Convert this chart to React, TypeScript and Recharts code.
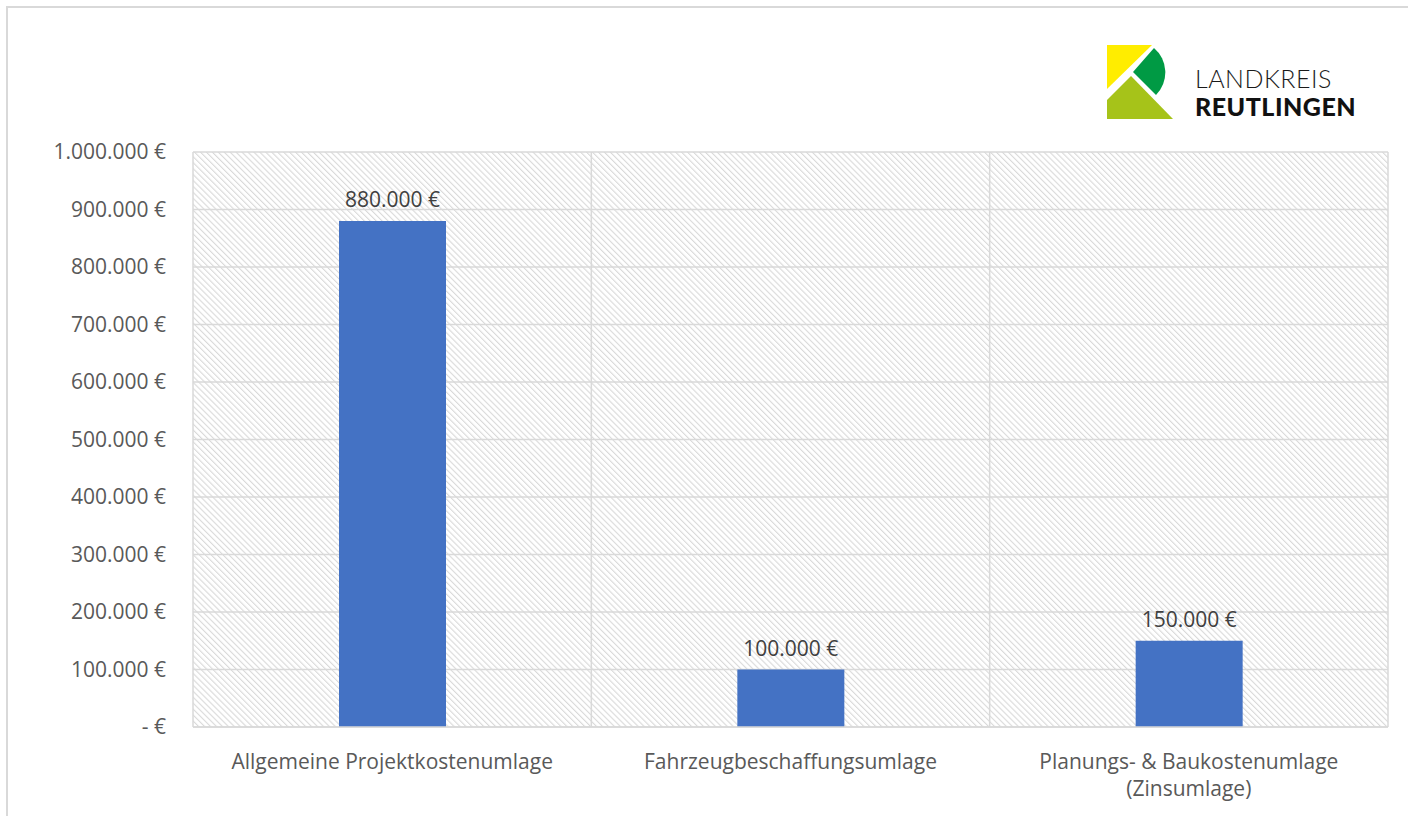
import * as React from 'react';
import { BarChart, Bar, XAxis, YAxis, CartesianGrid, LabelList } from 'recharts';

// Umlagen
const categories = [
  'Allgemeine Projektkostenumlage',
  'Fahrzeugbeschaffungsumlage',
  'Planungs- & Baukostenumlage (Zinsumlage)',
];
const amounts = [880000, 100000, 150000];
const yTicks = [0, 100000, 200000, 300000, 400000, 500000, 600000, 700000, 800000, 900000, 1000000];

const data = categories.map((name, i) => ({ name, amount: amounts[i] }));

const FONT = '"Open Sans", sans-serif';
const FS = 21;

function euro(v: number) {
  if (v === 0) return '- €';
  return String(v).replace(/\B(?=(\d{3})+(?!\d))/g, '.') + ' €';
}

function CategoryTick(props: any) {
  const { x, y, payload } = props;
  const text: string = payload.value;
  const idx = text.indexOf(' (');
  const lines = idx > 0 ? [text.slice(0, idx), text.slice(idx + 1)] : [text];
  return (
    <text x={x} y={y + 34} textAnchor="middle" fill="#595959" fontSize={FS} fontFamily={FONT}>
      {lines.map((l, i) => (
        <tspan key={i} x={x} dy={i === 0 ? 0 : 27}>{l}</tspan>
      ))}
    </text>
  );
}

function Logo() {
  return (
    <div style={{ position: 'absolute', left: 1100, top: 40, width: 280, height: 85 }}>
      <svg width={80} height={85} style={{ position: 'absolute', left: 0, top: 0 }}>
        <polygon points="7,5 52,5 7,49" fill="#ffed00" />
        <polygon points="31,36 73,79 7,79 7,60" fill="#a6c319" />
        <path d="M 33,32 L 54,8 A 32 32 0 0 1 56,55 Z" fill="#009a44" />
      </svg>
      <div style={{ position: 'absolute', left: 95, top: 25, fontFamily: 'Lato, sans-serif', fontSize: 25, fontWeight: 300, color: '#1a1a1a', lineHeight: '26px', letterSpacing: 0.5 }}>
        LANDKREIS
      </div>
      <div style={{ position: 'absolute', left: 95, top: 53, fontFamily: 'Lato, sans-serif', fontSize: 25, fontWeight: 900, color: '#111', lineHeight: '26px', letterSpacing: 0.5 }}>
        REUTLINGEN
      </div>
    </div>
  );
}

export default function App() {
  return (
    <div style={{ position: 'absolute', left: 0, top: 0, width: 1408, height: 816, background: '#fff', overflow: 'hidden' }}>
      <svg width={0} height={0} style={{ position: 'absolute' }}>
        <defs>
          <pattern id="hatch" patternUnits="userSpaceOnUse" width={4.2} height={10} patternTransform="rotate(-45)">
            <rect x={0} y={0} width={1.1} height={10} fill="#d9d9d9" />
          </pattern>
        </defs>
      </svg>
      <div style={{ position: 'absolute', left: 6, top: 6, width: 1410, height: 820, borderTop: '2px solid #d9d9d9', borderLeft: '2px solid #d9d9d9' }} />
      <Logo />
      <div style={{ position: 'absolute', left: 0, top: 0 }}>
        <BarChart width={1408} height={816} data={data} margin={{ top: 152, right: 20, bottom: 29, left: 0 }}>
          <CartesianGrid
            fill="url(#hatch)"
            stroke="#d9d9d9"
            strokeWidth={1.5}
            verticalCoordinatesGenerator={({ offset }: any) =>
              [0, 1, 2, 3].map((i) => offset.left + (i * offset.width) / categories.length)
            }
          />
          <XAxis
            dataKey="name"
            height={60}
            tickLine={false}
            axisLine={{ stroke: '#d9d9d9', strokeWidth: 1.5 }}
            tick={<CategoryTick />}
            interval={0}
          />
          <YAxis
            width={193}
            domain={[0, 1000000]}
            ticks={yTicks}
            tickFormatter={euro}
            axisLine={false}
            tickLine={false}
            tickSize={0}
            tickMargin={27}
            tick={{ fill: '#595959', fontSize: FS, fontFamily: FONT }}
          />
          <Bar dataKey="amount" fill="#4472c4" barSize={107} isAnimationActive={false}>
            <LabelList dataKey="amount" position="top" offset={14} formatter={(v: any) => euro(Number(v))} fill="#404040" fontSize={FS} fontFamily={FONT} />
          </Bar>
        </BarChart>
      </div>
    </div>
  );
}
